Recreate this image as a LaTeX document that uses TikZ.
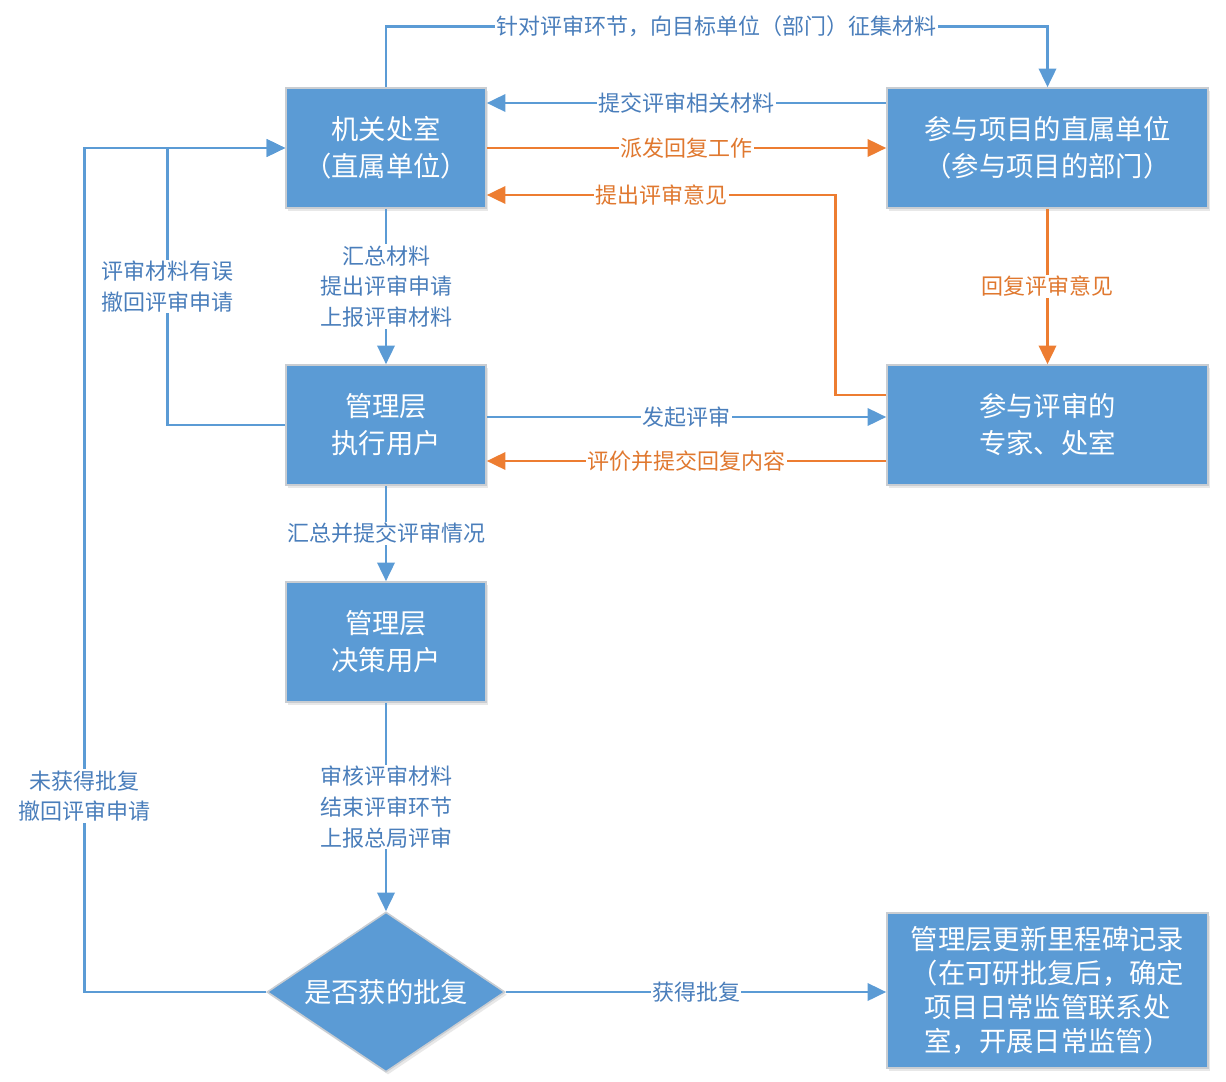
\documentclass[tikz,border=0pt]{standalone}
\usepackage{fontspec}
\setmainfont{Noto Sans CJK SC}
\usetikzlibrary{arrows.meta,shapes.geometric,shadows,calc}
\definecolor{boxblue}{HTML}{5B9BD5}
\definecolor{boxedge}{HTML}{C9CDD2}
\definecolor{lnblue}{HTML}{5B9BD5}
\definecolor{lnorange}{HTML}{ED7D31}
\definecolor{lblblue}{HTML}{4A7EBB}
\definecolor{lblorange}{HTML}{E0782F}
\newcommand{\wlp}{\makebox[1em][c]{（}}
\newcommand{\wrp}{\makebox[1em][c]{）}}
\begin{document}
\begin{tikzpicture}[x=0.75pt,y=-0.75pt,
  box/.style={rectangle, fill=boxblue, draw=boxedge, line width=1.2pt, text=white,
    font=\fontsize{20.5}{27.75}\selectfont, align=center, inner sep=0pt,
    minimum width=150pt, minimum height=90pt,
    drop shadow={opacity=0.18, shadow xshift=1.5pt, shadow yshift=-2pt}},
  widebox/.style={box, minimum width=240.75pt},
  decision/.style={diamond, fill=boxblue, draw=boxedge, line width=1.2pt, text=white,
    font=\fontsize{20.5}{27.75}\selectfont, inner sep=0pt, aspect=1.49,
    minimum width=178.5pt, minimum height=120pt,
    drop shadow={opacity=0.18, shadow xshift=1.5pt, shadow yshift=-2pt}},
  bline/.style={draw=lnblue, line width=2pt, -{Triangle[length=14pt,width=13pt]}},
  oline/.style={draw=lnorange, line width=2pt, -{Triangle[length=14pt,width=13pt]}},
  lbl/.style={fill=white, inner sep=1pt, text=lblblue, align=center,
    font=\fontsize{16.5}{23}\selectfont},
  olbl/.style={lbl, text=lblorange}]
\useasboundingbox (0,0) rectangle (1226,1081);

\node[box] (A) at (386,148) {机关处室\\\wlp 直属单位\wrp};
\node[widebox] (B) at (1047.5,148) {参与项目的直属单位\\\wlp 参与项目的部门\wrp};
\node[box] (C) at (386,425) {管理层\\执行用户};
\node[widebox] (D) at (1047.5,425) {参与评审的\\专家、处室};
\node[box] (E) at (386,642) {管理层\\决策用户};
\node[decision] (F) at (386,992) {是否获的批复};
\node[widebox, minimum height=116.25pt, font=\fontsize{20.5}{25.5}\selectfont] (G) at (1047.5,990.5)
  {管理层更新里程碑记录\\（在可研批复后，确定\\项目日常监管联系处\\室，开展日常监管）};

% top loop A -> B
\draw[bline] (A.north) -- ++(0,-61) coordinate (t1) -- (t1 -| B.north)
  node[lbl, midway] {针对评审环节，向目标单位（部门）征集材料} -- (B.north);
% B -> A
\draw[bline] ($(B.west)+(0,-45)$) -- ($(A.east)+(0,-45)$)
  node[lbl, midway] {提交评审相关材料};
% A -> B orange
\draw[oline] (A.east) -- (B.west) node[olbl, midway] {派发回复工作};
% D -> A orange
\draw[oline] ($(D.west)+(0,-30)$) -- ($(A.east)+(349,-30+277)$) coordinate (d1)
  -- (d1 |- {$(A.east)+(0,47)$}) coordinate (d2)
  -- ($(A.east)+(0,47)$) node[olbl, midway] {提出评审意见};
% B -> D orange
\draw[oline] (B.south) -- (D.north) node[olbl, midway] {回复评审意见};
% C -> D
\draw[bline] ($(C.east)+(0,-8)$) -- ($(D.west)+(0,-8)$) node[lbl, midway] {发起评审};
% D -> C orange
\draw[oline] ($(D.west)+(0,36)$) -- ($(C.east)+(0,36)$) node[olbl, midway] {评价并提交回复内容};
% A -> C
\draw[bline] (A.south) -- (C.north) node[lbl, midway] {汇总材料\\提出评审申请\\上报评审材料};
% C -> E
\draw[bline] (C.south) -- (E.north) node[lbl, midway] {汇总并提交评审情况};
% E -> F
\draw[bline] (E.south) -- (F.north) node[lbl, midway] {审核评审材料\\结束评审环节\\上报总局评审};
% F -> G
\draw[bline] (F.east) -- (F.east -| G.west) node[lbl, midway] {获得批复};
% C -> A loop
\draw[bline] (C.west) -- ++(-118,0) coordinate (c1) -- (c1 |- A.west)
  node[lbl, midway] {评审材料有误\\撤回评审申请} -- (A.west);
% F -> A loop
\draw[bline] (F.west) -- ++(-182,0) coordinate (f1) -- (f1 |- A.west)
  node[lbl, pos=0.232] {未获得批复\\撤回评审申请} -- (A.west);
\end{tikzpicture}
\end{document}
